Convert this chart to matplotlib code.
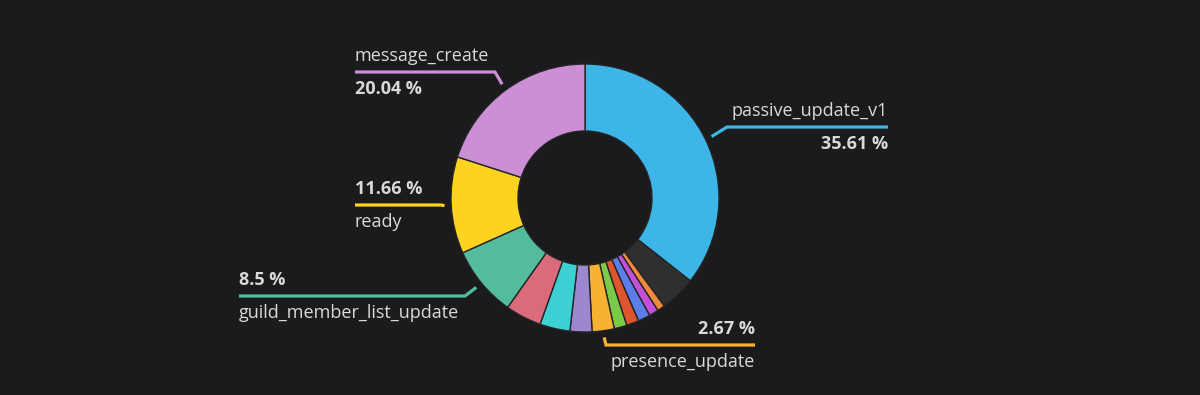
import matplotlib.pyplot as plt
import numpy as np

# slice data, clockwise from 12 o'clock
names = ["passive_update_v1", "", "", "", "", "", "", "presence_update",
         "", "", "", "guild_member_list_update", "ready", "message_create"]
shares = [35.61, 4.32, 0.92, 1.14, 1.47, 1.50, 1.53, 2.67,
          2.64, 3.64, 4.36, 8.5, 11.66, 20.04]
colors = ["#3DB5E6", "#2F2F30", "#F08A3A", "#C550D8", "#5B7EEA", "#DE5530",
          "#7CCB48", "#F8B232", "#9D88D0", "#3CD0D2", "#D96B7A", "#52BC9C",
          "#FCD31E", "#CC8FD5"]

BG = "#1B1B1D"
TXT = "#D8D9DA"
plt.rcParams['font.family'] = ['Open Sans', 'DejaVu Sans']

fig = plt.figure(figsize=(12, 3.95), dpi=100, facecolor=BG)
ax = fig.add_axes([0, 0, 1, 1])
ax.set_facecolor(BG)

# pixel layout: pie centre (585, 198), radius 134 px
CX, CY, R = 585, 198, 134.0


def px(x, y):
    return (x - CX) / R, (CY - y) / R


wedges, _ = ax.pie(shares, colors=colors, startangle=90, counterclock=False,
                   radius=1.0, wedgeprops=dict(width=0.5, edgecolor="#242426", linewidth=1.0))

# pie() resets the limits, so set them afterwards
x0, y0 = px(0, 0)
x1, y1 = px(1200, 395)
ax.set_xlim(x0, x1)
ax.set_ylim(y1, y0)
ax.set_aspect('equal')
ax.axis('off')

# label layout: slice index -> (elbow px, line end x px, side, name above line)
layout = {
    13: ((495, 72), 355, "left", True),
    0: ((727, 127), 888, "right", True),
    12: ((441, 205), 355, "left", False),
    11: ((465, 296), 239, "left", False),
    7: ((606, 345), 755, "right", False),
}

for i, ((ex, ey), endx, side, name_above) in layout.items():
    w = wedges[i]
    mid = np.deg2rad((w.theta1 + w.theta2) / 2)
    ax_, ay_ = 1.05 * np.cos(mid), 1.05 * np.sin(mid)
    exd, eyd = px(ex, ey)
    endd, _ = px(endx, ey)
    ax.plot([ax_, exd, endd], [ay_, eyd, eyd], color=colors[i], lw=2.3,
            solid_capstyle='butt', solid_joinstyle='miter')
    ha = "left" if side == "left" else "right"
    pct = f"{shares[i]:g} %"
    _, up = px(0, ey - 16)
    _, down = px(0, ey + 17)
    name_y, pct_y = (up, down) if name_above else (down, up)
    ax.text(endd, name_y, names[i], color=TXT, fontsize=13, ha=ha, va="center")
    ax.text(endd, pct_y, pct, color=TXT, fontsize=13, ha=ha, va="center",
            fontweight="bold")

fig.savefig("out.png", dpi=100, facecolor=BG)
